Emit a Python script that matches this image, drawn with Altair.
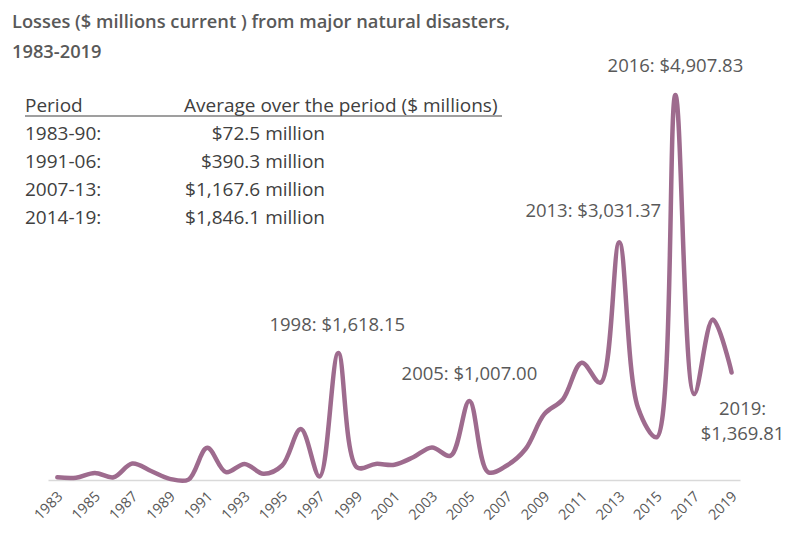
import altair as alt
import pandas as pd

# ---- data ----
years = list(range(1983, 2020))
losses = [35, 30, 90, 35, 210, 115, 15, 5,
          410, 100, 205, 80, 185, 650, 45, 1618.15, 160, 205, 195, 290, 415, 310, 1007.00, 100,
          185, 395, 840, 1030, 1495, 1240, 3031.37,
          925, 545, 4907.83, 1095, 2045, 1369.81]
tick_years = list(range(1983, 2020, 2))

ann_years = [1998, 2005, 2013, 2016, 2019]
ann_values = [1618.15, 1007.00, 3031.37, 4907.83, 1369.81]
ann_texts = ["1998: $1,618.15", "2005: $1,007.00", "2013: $3,031.37",
             "2016: $4,907.83", "2019:\n$1,369.81"]

title_lines = ["Losses ($ millions current ) from major natural disasters,", "1983-2019"]
table_header = ["Period", "Average over the period ($ millions)"]
periods = ["1983-90:", "1991-06:", "2007-13:", "2014-19:"]
averages = ["$72.5 million", "$390.3 million", "$1,167.6 million", "$1,846.1 million"]

FONT = "Open Sans"
GREY = "#595959"
DARK = "#404040"
LINE = "#9E6B8E"

df = pd.DataFrame({"year": years, "loss": losses})

xscale = alt.Scale(domain=[1982.5, 2019.45], nice=False, zero=False)
yscale = alt.Scale(domain=[0, 5609], nice=False, zero=True)

line = alt.Chart(df).mark_line(
    color=LINE, strokeWidth=4.5, interpolate="catmull-rom", strokeCap="round", strokeJoin="round"
).encode(
    x=alt.X("year:Q", scale=xscale,
            axis=alt.Axis(values=tick_years, tickCount=40, format="d", title=None, labelAngle=-45,
                          labelAlign="right", labelBaseline="middle", labelPadding=14,
                          labelOffset=3, labelOverlap=False, labelFlush=False, labelBound=False,
                          ticks=False, grid=False, domainColor="#D9D9D9", domainWidth=1.5,
                          labelColor=GREY, labelFont=FONT, labelFontSize=14.5)),
    y=alt.Y("loss:Q", scale=yscale, axis=None),
)

layers = [line]

# peak annotations: (dx, dy) offsets per label
ann_offsets = [(-1, -28), (0, -27), (-26, -31), (0, -29), (11, 36)]
for yr, val, txt, (dx, dy) in zip(ann_years, ann_values, ann_texts, ann_offsets):
    for i, part in enumerate(txt.split("\n")):
        adf = pd.DataFrame({"year": [yr], "loss": [val], "label": [part]})
        layers.append(
            alt.Chart(adf).mark_text(
                font=FONT, fontSize=18.5, color=GREY, align="center", baseline="middle",
                dx=dx, dy=dy + i * 25
            ).encode(x=alt.X("year:Q", scale=xscale), y=alt.Y("loss:Q", scale=yscale),
                     text="label:N")
        )

# title (two lines)
for i, t in enumerate(title_lines):
    layers.append(
        alt.Chart(pd.DataFrame({"t": [t]})).mark_text(
            font=FONT, fontSize=18.3, fontWeight=600, color=GREY, align="left",
            baseline="alphabetic"
        ).encode(x=alt.value(-36), y=alt.value(-12 + i * 30), text="t:N")
    )

# table header
layers.append(
    alt.Chart(pd.DataFrame({"t": [table_header[0]]})).mark_text(
        font=FONT, fontSize=19, color=DARK, align="left", baseline="alphabetic"
    ).encode(x=alt.value(-23), y=alt.value(72), text="t:N")
)
layers.append(
    alt.Chart(pd.DataFrame({"t": [table_header[1]]})).mark_text(
        font=FONT, fontSize=19, color=DARK, align="left", baseline="alphabetic"
    ).encode(x=alt.value(136), y=alt.value(72), text="t:N")
)
layers.append(
    alt.Chart(pd.DataFrame({"t": [0]})).mark_rule(color=DARK, strokeWidth=1.2).encode(
        x=alt.value(-23), x2=alt.value(454), y=alt.value(76)
    )
)
for i, (p, a) in enumerate(zip(periods, averages)):
    layers.append(
        alt.Chart(pd.DataFrame({"t": [p]})).mark_text(
            font=FONT, fontSize=19, color=DARK, align="left", baseline="alphabetic"
        ).encode(x=alt.value(-23), y=alt.value(100 + i * 28), text="t:N")
    )
    layers.append(
        alt.Chart(pd.DataFrame({"t": [a]})).mark_text(
            font=FONT, fontSize=19, color=DARK, align="right", baseline="alphabetic"
        ).encode(x=alt.value(277), y=alt.value(100 + i * 28), text="t:N")
    )

chart = alt.layer(*layers).properties(
    width=692, height=440,
    background="white",
    autosize=alt.AutoSizeParams(type="none"),
    padding={"left": 40, "top": 32, "right": 45, "bottom": 47},
).configure_view(stroke=None)

chart.save("out.html", embed_options={"renderer": "svg", "actions": False})
